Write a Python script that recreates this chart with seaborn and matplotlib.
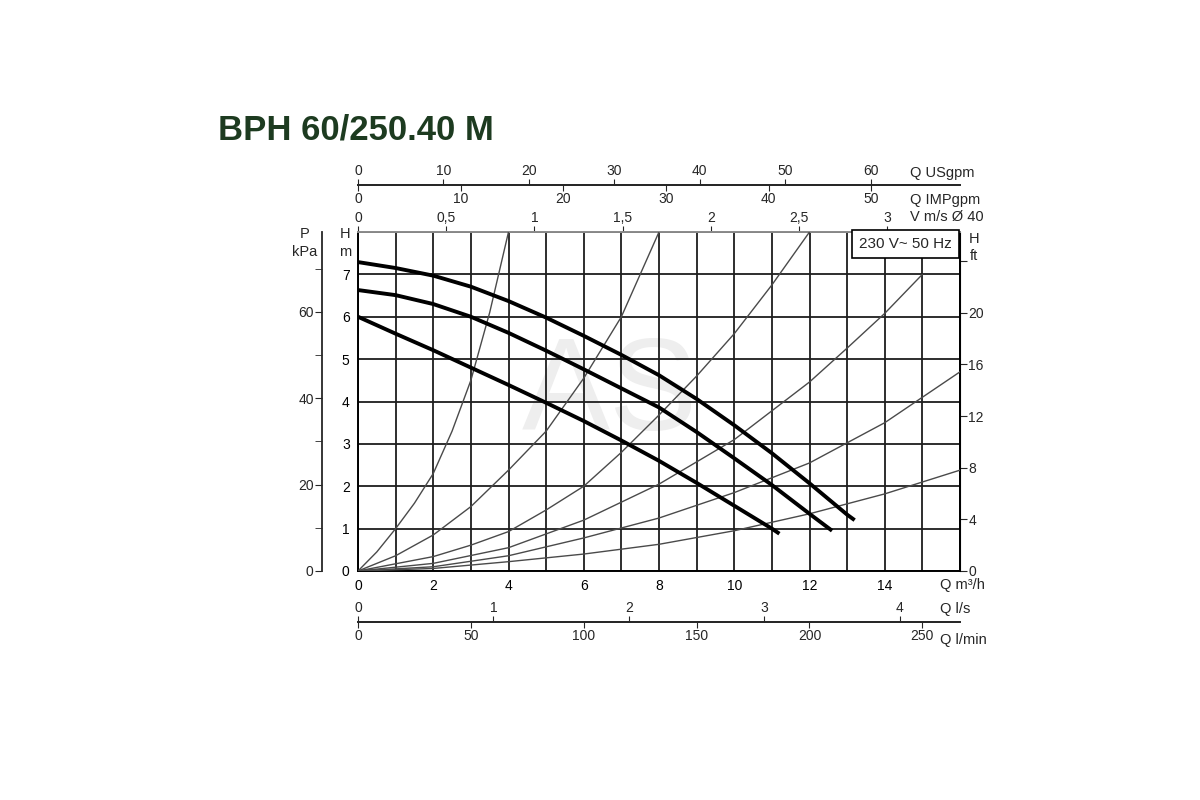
import numpy as np
import pandas as pd
import seaborn as sns
import matplotlib.pyplot as plt

# pump curves, Q in m3/h, H in m (three speeds)
q_speed3 = [0, 1, 2, 3, 4, 5, 6, 7, 8, 9, 10, 11, 12, 13, 13.2]
h_speed3 = [7.29, 7.15, 6.97, 6.71, 6.37, 5.98, 5.55, 5.1, 4.62, 4.06, 3.44, 2.78, 2.07, 1.33, 1.2]
q_speed2 = [0, 1, 2, 3, 4, 5, 6, 7, 8, 9, 10, 11, 12, 12.6]
h_speed2 = [6.63, 6.51, 6.3, 6.0, 5.62, 5.2, 4.76, 4.31, 3.86, 3.28, 2.66, 2.03, 1.35, 0.95]
q_speed1 = [0, 1, 2, 3, 4, 5, 6, 7, 8, 9, 10, 11, 11.2]
h_speed1 = [6.0, 5.6, 5.21, 4.8, 4.39, 3.97, 3.54, 3.08, 2.6, 2.08, 1.54, 1.0, 0.88]

# system curves (thin lines from the origin)
q_sys1 = [0, 0.5, 1, 1.5, 2, 2.5, 3, 3.5, 4]
h_sys1 = [0, 0.45, 1.0, 1.6, 2.3, 3.3, 4.5, 6.1, 8.0]
q_sys2 = [0, 1, 2, 3, 4, 5, 6, 7, 8]
h_sys2 = [0, 0.36, 0.85, 1.52, 2.38, 3.3, 4.55, 6.0, 8.0]
q_sys3 = [0, 1, 2, 3, 4, 5, 6, 7, 8, 9, 10, 11, 12]
h_sys3 = [0, 0.17, 0.34, 0.61, 0.93, 1.44, 2.0, 2.8, 3.68, 4.6, 5.6, 6.75, 8.0]
q_sys4 = [0, 2, 4, 6, 8, 10, 12, 13, 14, 15]
h_sys4 = [0, 0.18, 0.55, 1.2, 2.05, 3.1, 4.46, 5.26, 6.08, 7.0]
q_sys5 = [0, 2, 4, 6, 8, 10, 12, 14, 16]
h_sys5 = [0, 0.1, 0.36, 0.78, 1.25, 1.85, 2.55, 3.5, 4.7]
q_sys6 = [0, 2, 4, 6, 8, 10, 12, 14, 16]
h_sys6 = [0, 0.06, 0.22, 0.4, 0.63, 0.95, 1.35, 1.82, 2.38]

# axis ticks
usgpm_ticks = [0, 10, 20, 30, 40, 50, 60]
impgpm_ticks = [0, 10, 20, 30, 40, 50]
vel_ticks = [0, 0.5, 1, 1.5, 2, 2.5, 3]
vel_labels = ['0', '0,5', '1', '1,5', '2', '2,5', '3']
kpa_ticks = [0, 20, 40, 60]
kpa_minor = [10, 30, 50, 70]
ft_ticks = [0, 4, 8, 12, 16, 20, 24]
ft_labels = ['0', '4', '8', '12', '16', '20', '']
ls_ticks = [0, 1, 2, 3, 4]
lmin_ticks = [0, 50, 100, 150, 200, 250]

sns.set_style('white')
plt.rcParams['font.family'] = ['Liberation Sans', 'DejaVu Sans']
plt.rcParams['font.size'] = 10

fig = plt.figure(figsize=(12, 8), dpi=100)
W, H = 1200, 800
ax = fig.add_axes([358 / W, 1 - 571 / H, 602 / W, 339 / H])

sys_df = pd.concat([
    pd.DataFrame({'Q': q, 'H': h, 'curve': i})
    for i, (q, h) in enumerate([(q_sys1, h_sys1), (q_sys2, h_sys2), (q_sys3, h_sys3),
                                (q_sys4, h_sys4), (q_sys5, h_sys5), (q_sys6, h_sys6)])
])
pump_df = pd.concat([
    pd.DataFrame({'Q': q, 'H': h, 'speed': i})
    for i, (q, h) in enumerate([(q_speed1, h_speed1), (q_speed2, h_speed2), (q_speed3, h_speed3)])
])

sns.lineplot(data=sys_df, x='Q', y='H', units='curve', estimator=None,
             color='#4a4a4a', lw=1.0, ax=ax, zorder=3)
sns.lineplot(data=pump_df, x='Q', y='H', units='speed', estimator=None,
             color='black', lw=2.8, ax=ax, zorder=4, solid_capstyle='butt',
             solid_joinstyle='round')

ax.set_xlim(0, 16)
ax.set_ylim(0, 8)
ax.set_xlabel('')
ax.set_ylabel('')
ax.set_xticks(range(17), labels=[str(v) if v % 2 == 0 and v < 16 else '' for v in range(17)])
ax.set_yticks(range(9), labels=[str(v) for v in range(8)] + [''])
ax.grid(True, color='#1e1e1e', lw=1.3)
ax.set_axisbelow(True)
ax.tick_params(axis='both', direction='out', length=4, width=1, colors='black', pad=2)
for s in ['left', 'right', 'bottom']:
    ax.spines[s].set_color('black')
    ax.spines[s].set_linewidth(1.4)
ax.spines['top'].set_color('#8a8a8a')
ax.spines['top'].set_linewidth(1.4)

# watermark
ax.text(6.7, 4.15, 'AS', fontsize=95, color='#eeeeee', ha='center', va='center',
        zorder=0.2)

# legend box
ax.text(15.78, 7.88, '230 V~ 50 Hz', fontsize=11, ha='right', va='top', zorder=6,
        bbox=dict(boxstyle='square,pad=0.45', fc='white', ec='black', lw=1.2))

# velocity axis on top spine
vel = ax.secondary_xaxis('top', functions=(lambda q: q / 4.69, lambda v: v * 4.69))
vel.set_xticks(vel_ticks, labels=vel_labels)
vel.tick_params(length=4, pad=1)
vel.spines['top'].set_visible(False)

# USgpm / IMPgpm
usg = ax.secondary_xaxis(1 + 47 / 339, functions=(lambda q: q * 4.4029, lambda g: g / 4.4029))
usg.set_xticks(usgpm_ticks)
usg.tick_params(length=4, pad=1)
usg.spines['top'].set_linewidth(1.3)
imp = ax.secondary_xaxis(1 + 47 / 339, functions=(lambda q: q * 3.6662, lambda g: g / 3.6662))
imp.set_alignment('bottom')
imp.set_xticks(impgpm_ticks)
imp.tick_params(length=4, pad=1)
imp.spines['bottom'].set_linewidth(1.3)

# l/s and l/min below
ls = ax.secondary_xaxis(-51 / 339, functions=(lambda q: q / 3.6, lambda v: v * 3.6))
ls.set_alignment('top')
ls.set_xticks(ls_ticks)
ls.tick_params(length=4, pad=1)
ls.spines['top'].set_linewidth(1.3)
lmin = ax.secondary_xaxis(-51 / 339, functions=(lambda q: q * 16.667, lambda v: v / 16.667))
lmin.set_alignment('bottom')
lmin.set_xticks(lmin_ticks)
lmin.tick_params(length=4, pad=1)
lmin.spines['bottom'].set_linewidth(1.3)

# kPa on the left
kpa = ax.secondary_yaxis(-36 / 602, functions=(lambda h: h * 9.80665, lambda p: p / 9.80665))
kpa.set_yticks(kpa_ticks)
kpa.set_yticks(kpa_minor, minor=True)
kpa.tick_params(which='both', length=5, pad=1)
kpa.spines['left'].set_linewidth(1.3)

# ft on the right
ft = ax.secondary_yaxis('right', functions=(lambda h: h / 0.3048, lambda f: f * 0.3048))
ft.set_yticks(ft_ticks, labels=ft_labels)
ft.tick_params(length=5, pad=1)

def ftext(x, y, s, **kw):
    fig.text(x / W, 1 - y / H, s, va='center', **kw)

ftext(218, 130, 'BPH 60/250.40 M', fontsize=25, fontweight='bold', color='#1d3b20')
ftext(910, 173, 'Q USgpm', fontsize=10.5)
ftext(910, 200, 'Q IMPgpm', fontsize=10.5)
ftext(910, 217, 'V m/s Ø 40', fontsize=10.5)
ftext(940, 585, 'Q m³/h', fontsize=10.5)
ftext(940, 609, 'Q l/s', fontsize=10.5)
ftext(940, 640, 'Q l/min', fontsize=10.5)
ftext(305, 234, 'P', fontsize=10.5, ha='center')
ftext(305, 252, 'kPa', fontsize=10.5, ha='center')
ftext(345, 234, 'H', fontsize=10.5, ha='center')
ftext(345, 252, 'm', fontsize=10.5, ha='center')
ftext(974, 239, 'H', fontsize=10.5, ha='center')
ftext(974, 256, 'ft', fontsize=10.5, ha='center')

fig.savefig('out.png', dpi=100, facecolor='white')
